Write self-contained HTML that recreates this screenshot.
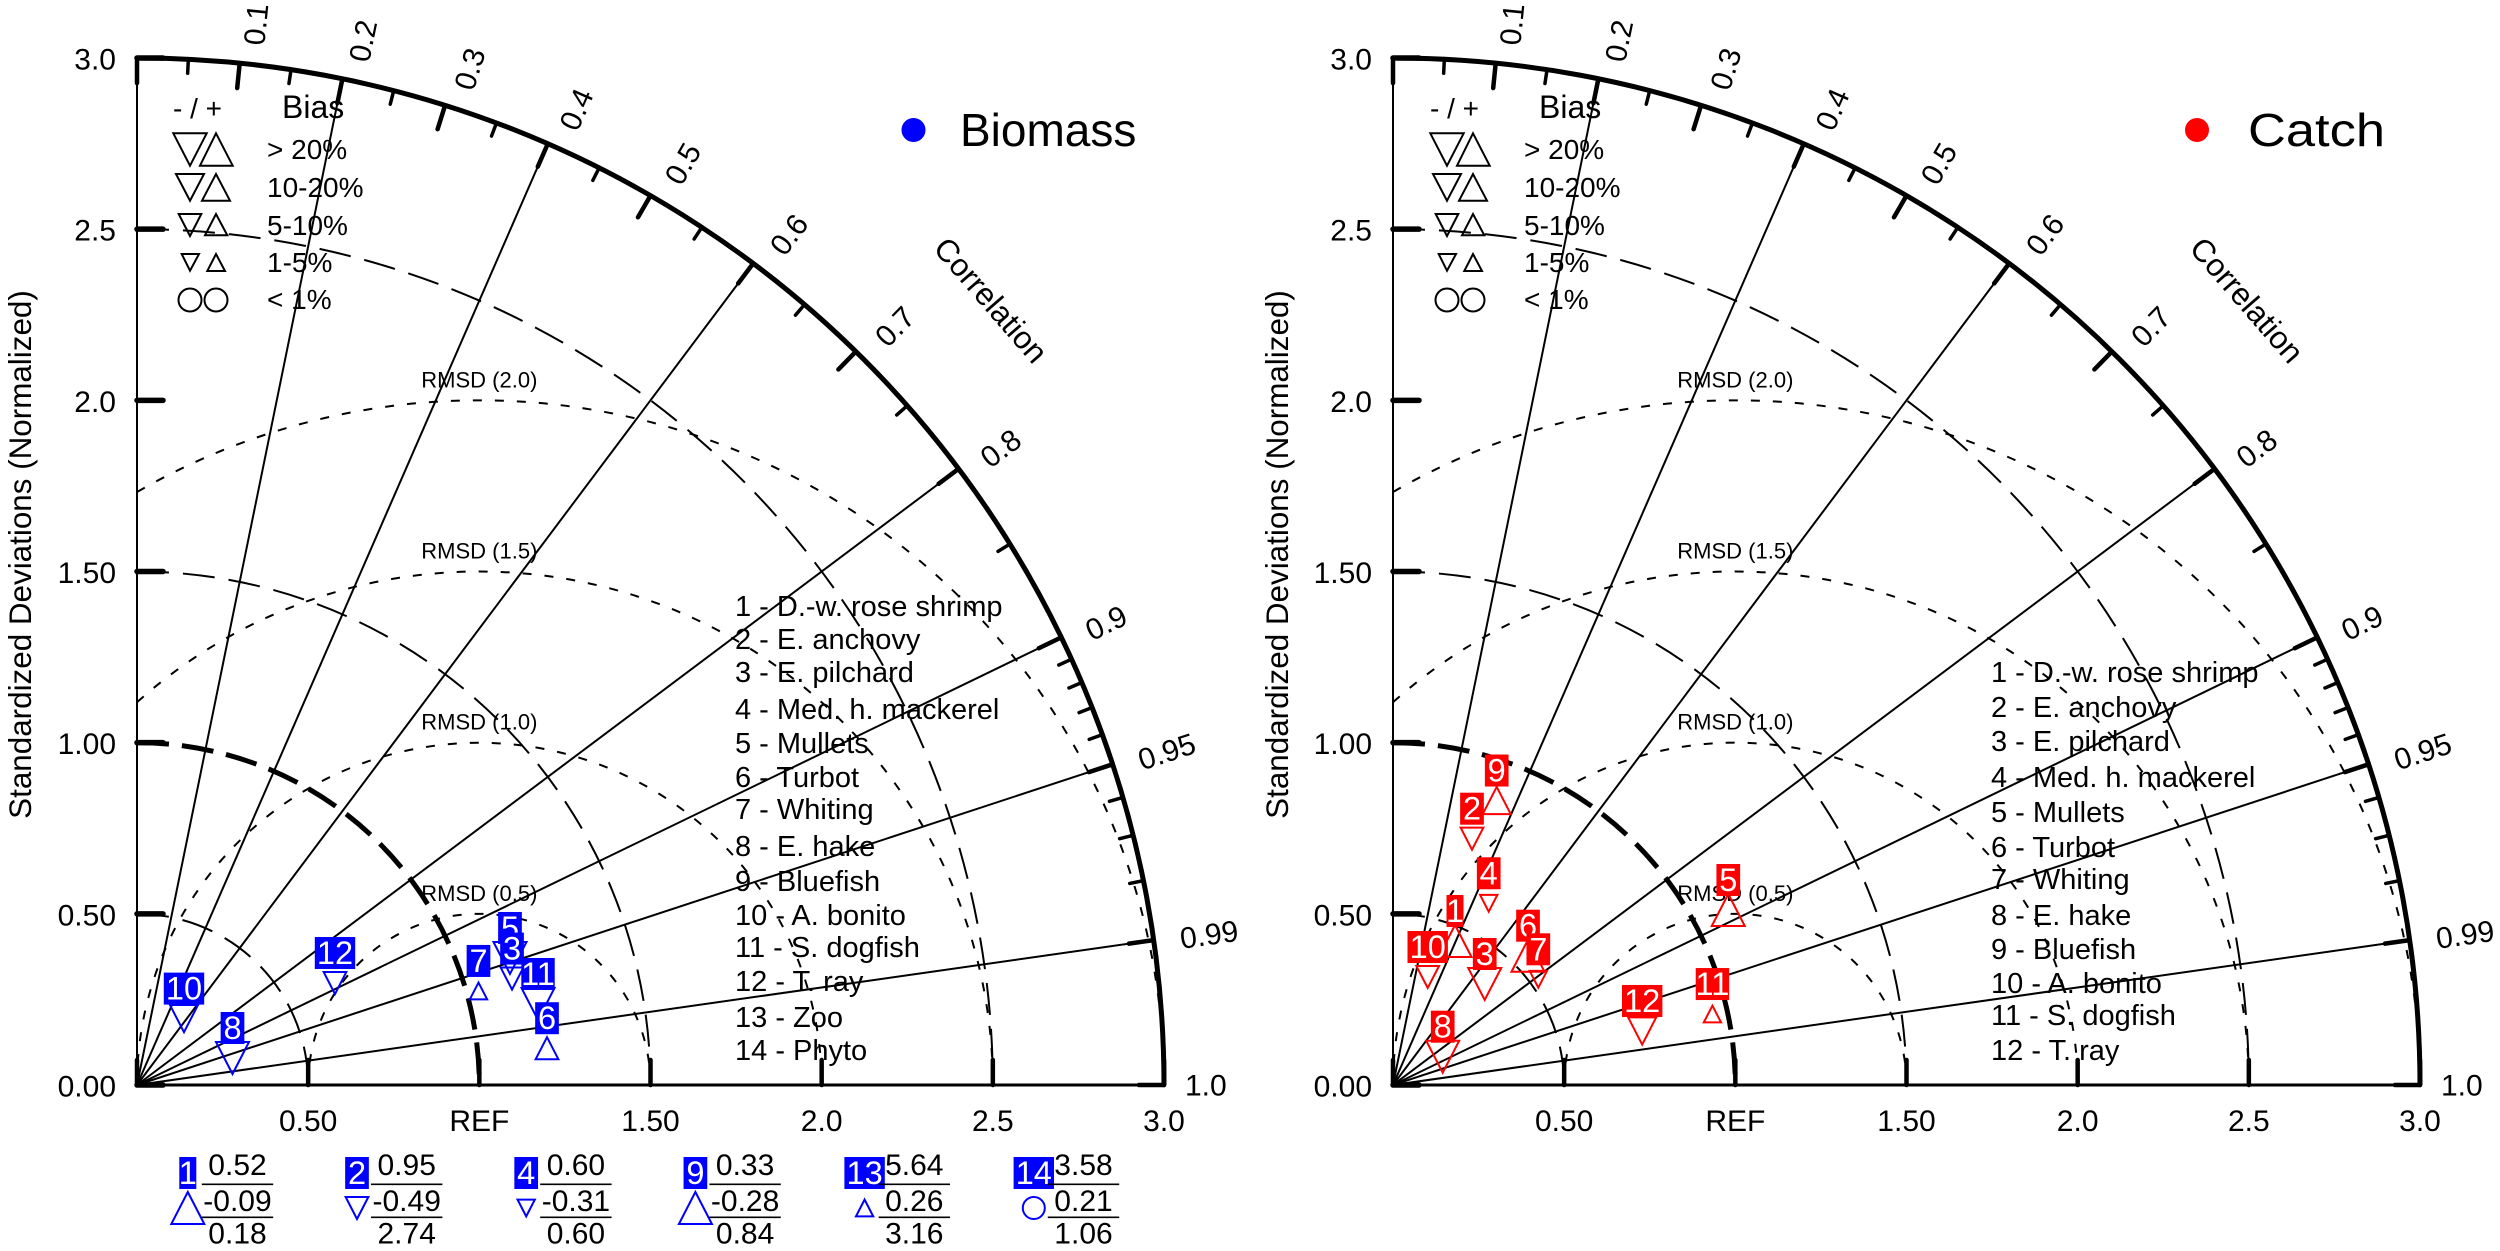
<!DOCTYPE html>
<html lang="en">
<head>
<meta charset="utf-8">
<title>Taylor diagrams: Biomass and Catch</title>
<style>
html,body{margin:0;padding:0;background:#fff}
svg{display:block;font-family:"Liberation Sans",sans-serif}
text{fill:#000}
.sp{font-size:29px}
.bl{font-size:28px}
.bh{font-size:32px}
.ttl{font-size:46px}
.sym{fill:none;stroke:#000;stroke-width:2}
</style>
</head>
<body>
<svg id="chart" xmlns="http://www.w3.org/2000/svg" width="2500" height="1251" viewBox="0 0 2500 1251">
  <rect x="0" y="0" width="2500" height="1251" fill="#fff"/>
  <g id="left-plot"></g>
  <g id="right-plot"></g>

  <g>
    <text transform="translate(31,554.5) rotate(-90)" text-anchor="middle" font-size="31.4">Standardized Deviations (Normalized)</text>
    <text transform="translate(991,300) rotate(49)" text-anchor="middle" y="11" font-size="31.5">Correlation</text>
    <circle cx="913.5" cy="130" r="12" fill="#0000ff"/>
    <text class="ttl" x="960" y="146">Biomass</text>

    <g>
      <text class="bl" x="173" y="118">- / +</text>
      <text class="bh" x="282" y="118">Bias</text>
      <polygon class="sym" points="173.3,133.3 206.7,133.3 190,165.7"/>
      <polygon class="sym" points="200,165.7 232.7,165.7 216,133.3"/>
      <text class="bl" x="267" y="159">&gt; 20%</text>
      <polygon class="sym" points="176,174 204,174 190,200.7"/>
      <polygon class="sym" points="202,200.7 230,200.7 216,174"/>
      <text class="bl" x="267" y="197">10-20%</text>
      <polygon class="sym" points="178.7,214 201.3,214 190,236"/>
      <polygon class="sym" points="205,235.3 227.3,235.3 216,214"/>
      <text class="bl" x="267" y="235">5-10%</text>
      <polygon class="sym" points="181.7,254 199,254 190,270.7"/>
      <polygon class="sym" points="207.3,271 225,271 216,254"/>
      <text class="bl" x="267" y="272">1-5%</text>
      <circle class="sym" cx="190" cy="300" r="11.5"/>
      <circle class="sym" cx="216" cy="300" r="11.5"/>
      <text class="bl" x="267" y="309">&lt; 1%</text>
    </g>

    <g>
      <text class="sp" x="735" y="616">1 - D.-w. rose shrimp</text>
      <text class="sp" x="735" y="649">2 - E. anchovy</text>
      <text class="sp" x="735" y="682">3 - E. pilchard</text>
      <text class="sp" x="735" y="719">4 - Med. h. mackerel</text>
      <text class="sp" x="735" y="753">5 - Mullets</text>
      <text class="sp" x="735" y="787">6 - Turbot</text>
      <text class="sp" x="735" y="819">7 - Whiting</text>
      <text class="sp" x="735" y="856">8 - E. hake</text>
      <text class="sp" x="735" y="891">9 - Bluefish</text>
      <text class="sp" x="735" y="925">10 - A. bonito</text>
      <text class="sp" x="735" y="957">11 - S. dogfish</text>
      <text class="sp" x="735" y="991">12 - T. ray</text>
      <text class="sp" x="735" y="1027">13 - Zoo</text>
      <text class="sp" x="735" y="1060">14 - Phyto</text>
    </g>
  </g>

  <g>
    <text transform="translate(1288,554.5) rotate(-90)" text-anchor="middle" font-size="31.4">Standardized Deviations (Normalized)</text>
    <text transform="translate(2247,300) rotate(49)" text-anchor="middle" y="11" font-size="31.5">Correlation</text>
    <circle cx="2197" cy="130" r="12" fill="#ff0000"/>
    <text class="ttl" x="2248" y="146" textLength="137" lengthAdjust="spacingAndGlyphs">Catch</text>

    <g transform="translate(1257,0)">
      <text class="bl" x="173" y="118">- / +</text>
      <text class="bh" x="282" y="118">Bias</text>
      <polygon class="sym" points="173.3,133.3 206.7,133.3 190,165.7"/>
      <polygon class="sym" points="200,165.7 232.7,165.7 216,133.3"/>
      <text class="bl" x="267" y="159">&gt; 20%</text>
      <polygon class="sym" points="176,174 204,174 190,200.7"/>
      <polygon class="sym" points="202,200.7 230,200.7 216,174"/>
      <text class="bl" x="267" y="197">10-20%</text>
      <polygon class="sym" points="178.7,214 201.3,214 190,236"/>
      <polygon class="sym" points="205,235.3 227.3,235.3 216,214"/>
      <text class="bl" x="267" y="235">5-10%</text>
      <polygon class="sym" points="181.7,254 199,254 190,270.7"/>
      <polygon class="sym" points="207.3,271 225,271 216,254"/>
      <text class="bl" x="267" y="272">1-5%</text>
      <circle class="sym" cx="190" cy="300" r="11.5"/>
      <circle class="sym" cx="216" cy="300" r="11.5"/>
      <text class="bl" x="267" y="309">&lt; 1%</text>
    </g>

    <g>
      <text class="sp" x="1991" y="682">1 - D.-w. rose shrimp</text>
      <text class="sp" x="1991" y="717">2 - E. anchovy</text>
      <text class="sp" x="1991" y="751">3 - E. pilchard</text>
      <text class="sp" x="1991" y="787">4 - Med. h. mackerel</text>
      <text class="sp" x="1991" y="822">5 - Mullets</text>
      <text class="sp" x="1991" y="857">6 - Turbot</text>
      <text class="sp" x="1991" y="889">7 - Whiting</text>
      <text class="sp" x="1991" y="925">8 - E. hake</text>
      <text class="sp" x="1991" y="959">9 - Bluefish</text>
      <text class="sp" x="1991" y="993">10 - A. bonito</text>
      <text class="sp" x="1991" y="1025">11 - S. dogfish</text>
      <text class="sp" x="1991" y="1060">12 - T. ray</text>
    </g>
  </g>
</svg>

<script>
// ---- axis data ----
const stdTicks = [0, 0.5, 1, 1.5, 2, 2.5, 3];
const yTickLabels = ['0.00', '0.50', '1.00', '1.50', '2.0', '2.5', '3.0'];
const xTickLabels = ['', '0.50', 'REF', '1.50', '2.0', '2.5', '3.0'];
const corrMajor = [0, 0.1, 0.2, 0.3, 0.4, 0.5, 0.6, 0.7, 0.8, 0.9, 0.95, 0.99, 1];
const corrMinor = [0.05, 0.15, 0.25, 0.35, 0.45, 0.55, 0.65, 0.75, 0.85, 0.91, 0.92, 0.93, 0.94, 0.96, 0.97, 0.98];
const corrLines = [0.2, 0.4, 0.6, 0.8, 0.9, 0.95, 0.99];
const corrLabels = ['0.1', '0.2', '0.3', '0.4', '0.5', '0.6', '0.7', '0.8', '0.9', '0.95', '0.99', '1.0'];
const corrLabelValues = [0.1, 0.2, 0.3, 0.4, 0.5, 0.6, 0.7, 0.8, 0.9, 0.95, 0.99, 1];
const stdArcs = [0.5, 1.5, 2.5];
const refArc = 1;
const rmsdLevels = [0.5, 1, 1.5, 2];
const rmsdLabels = ['RMSD (0.5)', 'RMSD (1.0)', 'RMSD (1.5)', 'RMSD (2.0)'];

// ---- biomass series (listed in drawing order) ----
const biomassIds = [10, 8, 12, 7, 5, 3, 11, 6];
const biomassRatio = [0.2376, 0.2899, 0.6506, 1.0347, 1.1510, 1.1388, 1.1951, 1.2025];
const biomassCorr = [0.5777, 0.9623, 0.8890, 0.9641, 0.9466, 0.9620, 0.9802, 0.9960];
const biomassBias = [-15, -25, -7, 3, -25, -7, -25, 7];

// ---- catch series ----
const catchIds = [1, 2, 3, 4, 5, 6, 7, 8, 9, 10, 11, 12];
const catchRatio = [0.4580, 0.7556, 0.3985, 0.6000, 1.1048, 0.5461, 0.5249, 0.1671, 0.8845, 0.3314, 0.9558, 0.7448];
const catchCorr = [0.3955, 0.3054, 0.6722, 0.4660, 0.8865, 0.7222, 0.8087, 0.8690, 0.3425, 0.3059, 0.9762, 0.9773];
const catchBias = [25, -7, -25, -3, 25, 25, -3, -25, 15, -7, 3, -15];

// ---- off-scale table under the biomass panel ----
const tableIds = [1, 2, 4, 9, 13, 14];
const tableRatio = ['0.52', '0.95', '0.60', '0.33', '5.64', '3.58'];
const tableCorr = ['-0.09', '-0.49', '-0.31', '-0.28', '0.26', '0.21'];
const tableRmsd = ['0.18', '2.74', '0.60', '0.84', '3.16', '1.06'];
const tableBias = [25, -7, -3, 25, 3, 0.5];

const NS = 'http://www.w3.org/2000/svg';
const K = 1027 / 3;
const BASE_Y = 1085;

function mk(tag, parent, name) {
  const el = document.createElementNS(NS, tag);
  
  
  parent.appendChild(el);
  return el;
}
function set(el, props) {
  Object.keys(props).forEach(function (k) { el.setAttribute(k, props[k]); });
  return el;
}
function label(parent, name, x, y, str, size, anchor, fill) {
  const t = mk('text', parent, name);
  set(t, { x: x, y: y, 'font-size': size, 'text-anchor': anchor || 'start' });
  if (fill) t.style.fill = fill;
  t.textContent = str;
  return t;
}
function line(parent, name, x1, y1, x2, y2, w, cap) {
  const l = mk('line', parent, name);
  set(l, { x1: x1, y1: y1, x2: x2, y2: y2, stroke: '#000', 'stroke-width': w, 'stroke-linecap': cap || 'butt' });
  return l;
}
function symbol(parent, name, cx, cy, bias, color) {
  const mag = Math.abs(bias);
  if (mag < 1) {
    const c = mk('circle', parent, name);
    set(c, { cx: cx, cy: cy, r: 11, fill: 'none', stroke: color, 'stroke-width': 2 });
    return c;
  }
  const w = mag > 20 ? 33 : mag > 10 ? 28 : mag > 5 ? 22.7 : 17.3;
  const h = w * 0.97;
  const s = bias < 0 ? 1 : -1;
  const p = mk('polygon', parent, name);
  set(p, {
    points: (cx - w / 2) + ',' + (cy - s * h / 2) + ' ' + (cx + w / 2) + ',' + (cy - s * h / 2) + ' ' + cx + ',' + (cy + s * h / 2),
    fill: 'none', stroke: color, 'stroke-width': 2, 'stroke-linejoin': 'miter'
  });
  return p;
}
function idBox(parent, name, cx, cy, id, color) {
  const str = String(id);
  const glyphs = str === '1' ? 17 : str === '11' ? 33.4 : str.length * 16.7 + 7;
  const r = mk('rect', parent, name + '-box');
  set(r, { x: cx - glyphs / 2, y: cy - 16, width: glyphs, height: 32, fill: color });
  label(parent, name + '-label', cx, cy + 11, str, 32.5, 'middle', '#fff');
}

function drawPanel(root, ox, ids, ratio, corr, bias, color, prefix) {
  const X = function (v) { return ox + v * K; };
  const Y = function (v) { return BASE_Y - v * K; };
  const PX = function (r, c) { return X(r * c); };
  const PY = function (r, c) { return Y(r * Math.sqrt(Math.max(0, 1 - c * c))); };

  // correlation spokes
  corrLines.forEach(function (c) {
    line(root, 'correlation-line-' + c, X(0), Y(0), PX(3, c), PY(3, c), 2);
  });

  // std-dev arcs around the origin
  stdArcs.forEach(function (v) {
    const a = mk('path', root, 'std-dev-arc-' + v);
    set(a, { d: 'M' + X(0) + ' ' + Y(v) + ' A' + v * K + ' ' + v * K + ' 0 0 1 ' + X(v) + ' ' + Y(0),
      fill: 'none', stroke: '#000', 'stroke-width': 2, 'stroke-dasharray': '32 14' });
  });
  const ref = mk('path', root, 'reference-arc');
  set(ref, { d: 'M' + X(0) + ' ' + Y(refArc) + ' A' + refArc * K + ' ' + refArc * K + ' 0 0 1 ' + X(refArc) + ' ' + Y(0),
    fill: 'none', stroke: '#000', 'stroke-width': 5, 'stroke-dasharray': '32 13' });

  // RMSD circles around REF
  rmsdLevels.forEach(function (v, i) {
    const sx = Math.max(0, 1 - v);
    const sy = Math.sqrt(Math.max(0, v * v - (1 - sx) * (1 - sx)));
    const a = mk('path', root, 'rmsd-arc-' + v);
    set(a, { d: 'M' + X(sx) + ' ' + Y(sy) + ' A' + v * K + ' ' + v * K + ' 0 0 1 ' + X(1 + v) + ' ' + Y(0),
      fill: 'none', stroke: '#000', 'stroke-width': 2, 'stroke-dasharray': '9 13' });
    label(root, 'rmsd-label-' + v, X(1), Y(v) - 13, rmsdLabels[i], 22, 'middle');
  });

  // axes
  line(root, 'y-axis-line', X(0), Y(0), X(0), Y(3), 2);
  line(root, 'x-axis-line', X(0), Y(0), X(3), Y(0), 3);
  const outer = mk('path', root, 'outer-correlation-arc');
  set(outer, { d: 'M' + X(0) + ' ' + Y(3) + ' A' + 3 * K + ' ' + 3 * K + ' 0 0 1 ' + X(3) + ' ' + Y(0),
    fill: 'none', stroke: '#000', 'stroke-width': 5 });

  stdTicks.forEach(function (v, i) {
    line(root, 'y-tick-' + v, X(0), Y(v), X(0) + 26, Y(v), 5.5, 'round');
    line(root, 'x-tick-' + v, X(v), Y(0), X(v), Y(0) - 25, 4.5, 'round');
    label(root, 'y-tick-label-' + v, X(0) - 21, Y(v) + 11.5, yTickLabels[i], 30, 'end');
    if (xTickLabels[i]) label(root, 'x-tick-label-' + v, X(v), Y(0) + 46, xTickLabels[i], 30, 'middle');
  });

  // correlation ticks
  corrMajor.forEach(function (c) {
    line(root, 'correlation-major-tick-' + c, PX(3, c), PY(3, c), PX(3 - 25 / K, c), PY(3 - 25 / K, c), 4.5, 'round');
  });
  corrMinor.forEach(function (c) {
    line(root, 'correlation-minor-tick-' + c, PX(3, c), PY(3, c), PX(3 - 14 / K, c), PY(3 - 14 / K, c), 3.5, 'round');
  });
  corrLabels.forEach(function (str, i) {
    const c = corrLabelValues[i];
    const deg = Math.acos(c) * 180 / Math.PI;
    const radial = c < 1 ? 3.5 - 0.001 * deg * deg : -2;
    const perp = 12.5 * Math.sin(1.2 * deg * Math.PI / 180);
    const rr = (1050 + radial) / K;
    const px = PX(rr, c);
    const py = PY(rr, c);
    const t = label(root, 'correlation-label-' + str, px, py + 10.5 + perp, str, 30, 'start');
    t.setAttribute('transform', 'rotate(' + (-deg) + ' ' + px + ' ' + py + ')');
  });

  // markers first, then the id boxes over them
  ids.forEach(function (id, i) {
    symbol(root, prefix + '-marker-' + id, PX(ratio[i], corr[i]), PY(ratio[i], corr[i]), bias[i], color);
  });
  ids.forEach(function (id, i) {
    idBox(root, prefix + '-species-' + id, PX(ratio[i], corr[i]), PY(ratio[i], corr[i]) - 30, id, color);
  });
}

function drawTable(root) {
  tableIds.forEach(function (id, i) {
    const cx = 237.5 + i * 169.2;
    const bx = cx - 49.7;
    const name = 'off-scale-' + id;
    idBox(root, name, bx, 1173, id, '#0000ff');
    symbol(root, name + '-marker', bx, 1208, tableBias[i], '#0000ff');
    label(root, name + '-ratio', cx, 1175, tableRatio[i], 30, 'middle');
    line(root, name + '-rule-top', cx - 35.7, 1184.3, cx + 35.7, 1184.3, 1.6);
    label(root, name + '-correlation', cx, 1211, tableCorr[i], 30, 'middle');
    line(root, name + '-rule-bottom', cx - 35.7, 1217.3, cx + 35.7, 1217.3, 1.6);
    label(root, name + '-rmsd', cx, 1243.5, tableRmsd[i], 30, 'middle');
  });
}

const leftRoot = document.getElementById('left-plot');
const rightRoot = document.getElementById('right-plot');
drawPanel(leftRoot, 137, biomassIds, biomassRatio, biomassCorr, biomassBias, '#0000ff', 'biomass');
drawPanel(rightRoot, 1393, catchIds, catchRatio, catchCorr, catchBias, '#ff0000', 'catch');
drawTable(leftRoot);
</script>
</body>
</html>
